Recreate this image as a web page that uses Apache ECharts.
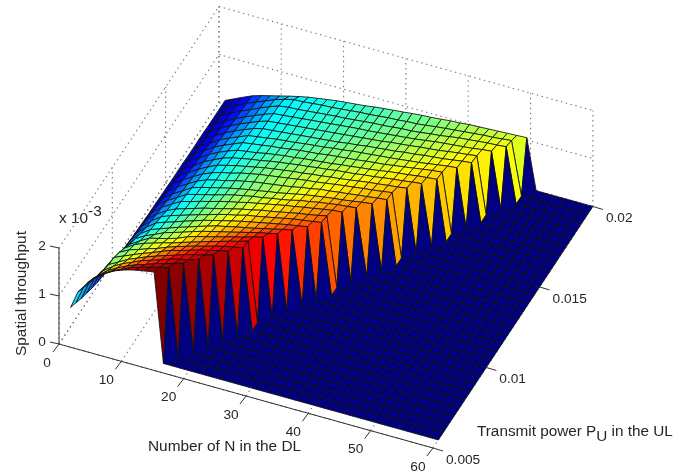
<!DOCTYPE html>
<html><head><meta charset="utf-8">
<style>html,body{margin:0;padding:0;background:#fff}#c{width:688px;height:472px}</style>
<script src="https://cdn.jsdelivr.net/npm/echarts@6/dist/echarts.min.js"></script>
</head><body><div id="c"></div>
<script>
// Surface grid: number of N (columns) and transmit power (rows)
const nGrid = [1,2.2,3.7,5.3,6.8,8.3,9.8,11.3,12.9,14.4,15.9,17.4,19,20.5,22,23.5,25,26.5,28,29.6,31,32.6,34,35.7,37.2,38.7,40.2,41.8,43.3,44.8,46.3,47.8,49.4,50.9,52.4,53.9,55.4,56.9,58.5,60];
const pGrid = [0.0055,0.006,0.0065,0.007,0.0075,0.008,0.0085,0.009,0.0095,0.01,0.0105,0.011,0.0115,0.012,0.0125,0.013,0.0135,0.014,0.0145,0.015,0.0155,0.016,0.0165,0.017,0.0175,0.018,0.0185,0.019,0.0195,0.02];
// Spatial throughput in units of 1e-5, one list per power row; columns beyond the list are zero
const throughputRows = [
[63,100,124,143,156,166,173,178,182,185],
[56,92,116,131,143,152,161,167,173,178,183],
[48,84,106,122,133,142,150,156,164,169,175,181],
[42,76,99,114,125,133,142,148,155,162,167,171,178],
[36,71,95,106,117,125,133,140,147,153,160,165,170,176],
[31,65,93,102,110,118,125,133,141,146,152,158,163,168,172],
[27,60,87,98,104,111,117,125,132,138,144,149,155,160,164,168],
[24,55,79,92,100,106,112,117,124,130,136,142,148,154,159,165],
[22,49,70,83,94,99,104,110,119,125,130,135,141,146,151,157,162],
[20,44,65,77,85,94,100,106,113,119,124,129,134,139,144,149,153,158],
[18,41,59,73,80,87,94,100,107,113,119,123,128,132,136,141,145,150,154],
[16,38,55,70,77,83,90,96,103,108,113,118,123,127,131,135,139,143,146,150],
[15,35,52,66,74,80,86,92,98,104,109,113,119,122,126,130,134,138,141,144,147],
[14,33,49,62,71,77,83,89,94,99,104,109,113,118,121,125,129,133,136,140,144],
[13,31,47,59,70,75,81,86,92,97,101,106,110,114,118,122,125,129,132,136,139,141],
[12,29,44,56,68,73,78,83,89,94,98,102,105,109,112,116,121,124,128,131,134,136,138],
[12,27,41,53,65,71,76,81,86,90,94,97,101,104,108,112,116,119,122,125,127,130,133,136],
[11,25,39,51,62,70,75,79,85,89,93,96,99,102,105,109,112,116,118,121,123,126,128,131,133],
[11,24,37,49,60,68,74,78,84,88,92,95,98,101,104,107,109,112,115,118,120,123,125,128,131],
[10,23,35,48,58,67,72,77,81,85,89,92,95,98,100,103,105,108,110,113,116,119,121,124,126,129],
[10,22,33,47,56,65,71,75,79,82,86,89,92,95,97,100,102,105,107,109,112,114,117,120,122,125,127],
[10,21,32,45,55,63,70,73,76,80,83,86,88,91,93,95,97,100,102,105,107,110,113,116,118,121,123,125],
[9,20,31,44,53,61,69,72,75,78,80,83,86,88,90,93,95,97,99,102,104,106,109,112,115,118,121,123],
[9,19,29,42,51,59,67,70,73,76,78,80,83,85,87,90,92,95,97,99,101,103,105,108,110,113,116,119,121],
[9,18,28,40,49,57,65,70,72,74,76,78,80,82,84,86,89,91,94,96,98,100,103,105,108,110,112,115,118,120],
[9,17,27,38,47,55,63,69,71,73,75,77,79,81,83,85,87,89,91,93,96,98,100,103,105,107,110,113,115,118],
[8,16,26,36,45,53,61,68,70,72,74,76,78,80,82,84,86,87,89,91,93,95,97,100,103,105,107,109,111,114,116],
[8,16,25,35,43,52,60,67,70,71,73,75,77,79,80,82,84,86,87,89,91,92,94,97,99,102,105,107,109,111,112,114],
[8,15,24,34,42,50,58,64,69,70,72,74,75,77,79,81,82,84,86,87,89,90,92,95,97,99,101,103,105,106,108,110],
[8,15,24,33,39,44,49,54,59,63,66,69,72,74,76,78,81,83,85,87,89,91,92,94,96,97,99,100,101,102,103,104,105]
];
// Tick labels
const nTicks = [0,10,20,30,40,50,60];
const pTicks = [0.005,0.01,0.015,0.02];
const zTicks = [0,1,2];
const colorMax = 1.85;

// Orthographic view of the plot box
const view = {ox:59, oy:344, nx:6.233, ny:1.733, px:53.3, py:-80.5, zy:-48};
function project(n,p,z){
  const t=(p-0.005)/0.005;
  return [view.ox+n*view.nx+t*view.px, view.oy+n*view.ny+t*view.py+z*view.zy];
}
function zAt(j,k){ const r=throughputRows[j]; return k<r.length ? r[k]/100 : 0; }
function jet(z){
  const c=Math.min(1,z/colorMax);
  const f=v=>Math.round(255*Math.max(0,Math.min(1,1.5-Math.abs(4*c-v))));
  return 'rgb('+f(3)+','+f(2)+','+f(1)+')';
}

// Cells painted far to near
const cells=[];
for(let j=pGrid.length-2;j>=0;j--) for(let k=0;k<nGrid.length-1;k++) cells.push([j,k]);

// Dotted box grid
const gridSegs=[];
const pA=pTicks[0], pB=pTicks[pTicks.length-1], nA=nTicks[0], nB=nTicks[nTicks.length-1], zT=zTicks[zTicks.length-1];
nTicks.forEach(n=>{ gridSegs.push([n,pA,0,n,pB,0]); gridSegs.push([n,pB,0,n,pB,zT]); });
pTicks.forEach(p=>{ gridSegs.push([nA,p,0,nB,p,0]); gridSegs.push([nA,p,0,nA,p,zT]); });
zTicks.forEach(z=>{ gridSegs.push([nA,pA,z,nA,pB,z]); gridSegs.push([nA,pB,z,nB,pB,z]); });

// Solid axes and tick marks
const axisSegs=[[nA,pA,0,nB,pA,0],[nA,pA,0,nA,pA,zT]];
const tickSegs=[];
nTicks.forEach(n=>tickSegs.push({a:[n,pA,0],dx:-6,dy:8}));
pTicks.forEach(p=>tickSegs.push({a:[nB,p,0],dx:10,dy:3}));
zTicks.forEach(z=>tickSegs.push({a:[nA,pA,z],dx:-9,dy:-2}));

const labels=[];
nTicks.forEach(n=>{const q=project(n,pA,0);labels.push({t:String(n),x:q[0]-(n===0?12:15),y:q[1]+19,a:'center'});});
pTicks.forEach(p=>{const q=project(nB,p,0);labels.push({t:String(p),x:q[0]+13,y:q[1]+12,a:'left'});});
zTicks.forEach(z=>{const q=project(nA,pA,z);labels.push({t:String(z),x:q[0]-17,y:q[1]-2,a:'center'});});

const FONT='"Liberation Sans", Arial, sans-serif';
const TXT='#262626';
const chart=echarts.init(document.getElementById('c'),null,{renderer:'canvas'});
chart.setOption({
  animation:false,
  backgroundColor:'#fff',
  grid:{left:0,right:0,top:0,bottom:0},
  xAxis:{type:'value',min:0,max:688,show:false},
  yAxis:{type:'value',min:0,max:472,inverse:true,show:false},
  series:[
    {type:'custom',coordinateSystem:'cartesian2d',silent:true,clip:false,z:1,data:gridSegs,
      renderItem:(p,api)=>{const s=gridSegs[p.dataIndex];
        const a=api.coord(project(s[0],s[1],s[2])),b=api.coord(project(s[3],s[4],s[5]));
        return {type:'line',shape:{x1:a[0],y1:a[1],x2:b[0],y2:b[1]},style:{stroke:'#777',lineWidth:1.1,lineDash:[1.4,3.6],fill:null}};}},
    {type:'custom',coordinateSystem:'cartesian2d',silent:true,clip:false,z:2,data:axisSegs,
      renderItem:(p,api)=>{const s=axisSegs[p.dataIndex];
        const a=api.coord(project(s[0],s[1],s[2])),b=api.coord(project(s[3],s[4],s[5]));
        return {type:'line',shape:{x1:a[0],y1:a[1],x2:b[0],y2:b[1]},style:{stroke:'#333',lineWidth:1,fill:null}};}},
    {type:'custom',coordinateSystem:'cartesian2d',silent:true,clip:false,z:3,data:cells,progressive:0,
      renderItem:(p,api)=>{const c=cells[p.dataIndex],j=c[0],k=c[1];
        const v=(jj,kk)=>api.coord(project(nGrid[kk],pGrid[jj],zAt(jj,kk)));
        return {type:'polygon',shape:{points:[v(j,k),v(j,k+1),v(j+1,k+1),v(j+1,k)]},
          style:{fill:jet(zAt(j,k)),stroke:'#111',lineWidth:0.85,lineJoin:'round'}};}},
    {type:'custom',coordinateSystem:'cartesian2d',silent:true,clip:false,z:4,data:tickSegs,
      renderItem:(p,api)=>{const s=tickSegs[p.dataIndex];const a=api.coord(project(s.a[0],s.a[1],s.a[2]));
        return {type:'line',shape:{x1:a[0],y1:a[1],x2:a[0]+s.dx,y2:a[1]+s.dy},style:{stroke:'#333',lineWidth:1,fill:null}};}},
    {type:'custom',coordinateSystem:'cartesian2d',silent:true,clip:false,z:5,data:labels,
      renderItem:(p,api)=>{const l=labels[p.dataIndex];const a=api.coord([l.x,l.y]);
        return {type:'text',style:{text:l.t,x:a[0],y:a[1],fill:TXT,font:'13.7px '+FONT,textAlign:l.a,textVerticalAlign:'middle'}};}}
  ],
  graphic:[
    {type:'text',x:148,y:439,style:{text:'Number of N in the DL',fill:TXT,font:'15.4px '+FONT}},
    {type:'text',rotation:Math.PI/2,x:14,y:356,style:{text:'Spatial throughput',fill:TXT,font:'15.4px '+FONT}},
    {type:'text',x:59,y:211,style:{text:'x 10',fill:TXT,font:'15.4px '+FONT}},
    {type:'text',x:88,y:204,style:{text:'-3',fill:TXT,font:'15.4px '+FONT}},
    {type:'text',x:477,y:420,style:{text:'Transmit power P{s|U} in the UL',fill:TXT,font:'15.3px '+FONT,rich:{s:{fontSize:15.3,padding:[9,0,0,0],fill:TXT,fontFamily:'Liberation Sans'}}}}
  ]
});
</script></body></html>
